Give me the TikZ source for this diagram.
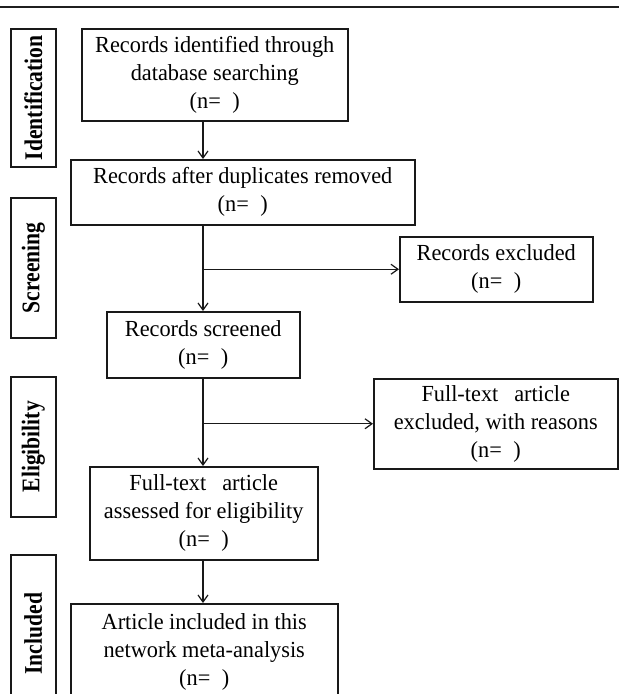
\documentclass[tikz,border=0pt]{standalone}
\usepackage{fontspec}
\setmainfont[FakeStretch=0.97]{Liberation Serif}
\newfontfamily\sidefont[FakeStretch=0.85]{Liberation Serif}
\usetikzlibrary{arrows.meta}
\begin{document}
\begin{tikzpicture}[x=1pt,y=-1pt,
  box/.style={draw=black!90, line width=1.5pt, anchor=north west, inner sep=0pt,
    align=center, font=\fontsize{23}{28}\selectfont},
  side/.style={draw=black!90, line width=1.5pt, anchor=north west, inner sep=0pt,
    minimum width=45pt},
  sidetext/.style={rotate=90, font=\sidefont\fontsize{25.4}{30}\selectfont\bfseries},
  arr/.style={line width=1.2pt, draw=black!90, -{Straight Barb[length=7pt,width=10pt,line width=1.2pt]}}
]
\clip (0,0) rectangle (619,694);
\fill[white] (0,0) rectangle (619,694);
% top rule
\draw[line width=2pt, draw=black!88] (0,7) -- (619,7);

% side boxes
\node[side, minimum height=138pt] (sid) at (10,28) {};
\node[sidetext] at (sid.center) {Identification};
\node[side, minimum height=140pt] (ssc) at (10,197) {};
\node[sidetext] at (ssc.center) {Screening};
\node[side, minimum height=140pt] (sel) at (10,376) {};
\node[sidetext] at (sel.center) {Eligibility};
\node[side, minimum height=146pt] (sin) at (10,554) {};
\node[sidetext] at ([yshift=-6pt]sin.center) {Included};

% main boxes
\node[box, minimum width=266pt, minimum height=92pt] (b1) at (81,28)
  {Records identified through\\database searching\\(n=\hspace{0.5em})};
\node[box, minimum width=344pt, minimum height=65pt] (b2) at (70,159)
  {Records after duplicates removed\\(n=\hspace{0.5em})};
\node[box, minimum width=193pt, minimum height=65pt] (ex1) at (399,236)
  {Records excluded\\(n=\hspace{0.5em})};
\node[box, minimum width=193pt, minimum height=66pt] (b3) at (106,311)
  {Records screened\\(n=\hspace{0.5em})};
\node[box, minimum width=244pt, minimum height=90pt] (ex2) at (373,378)
  {Full-text\hspace{0.45em} article\\excluded, with reasons\\(n=\hspace{0.5em})};
\node[box, minimum width=228pt, minimum height=93pt] (b4) at (89,466)
  {Full-text\hspace{0.45em} article\\assessed for eligibility\\(n=\hspace{0.5em})};
\node[box, minimum width=267pt, minimum height=97pt] (b5) at (70,603)
  {Article included in this\\network meta-analysis\\(n=\hspace{0.5em})};

% spine
\coordinate (spine) at (203,0);
\draw[arr] (b1.south -| spine) -- (b2.north -| spine);
\draw[arr] (b2.south -| spine) -- (b3.north -| spine);
\draw[arr] (b3.south -| spine) -- (b4.north -| spine);
\draw[arr] (b4.south -| spine) -- (b5.north -| spine);
\draw[arr] (ex1.west -| spine) -- (ex1.west);
\draw[arr] (ex2.west -| spine) -- (ex2.west);
\end{tikzpicture}
\end{document}
